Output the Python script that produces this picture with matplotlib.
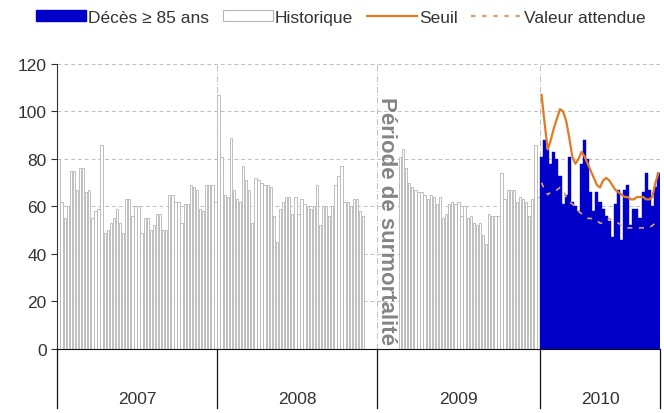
import numpy as np
import matplotlib.pyplot as plt
from matplotlib.patches import Patch
from matplotlib.lines import Line2D

plt.rcParams['font.family'] = ['Liberation Sans', 'DejaVu Sans']

# weeks shown per year
years = ['2007', '2008', '2009', '2010']
weeks_per_year = [52, 52, 53, 39]

# historical weekly deaths (None = excluded period)
hist_2007 = [80, 62, 55, 60, 75, 75, 67, 76, 76, 66, 67, 55, 58, 59, 86, 49, 50, 53,
             55, 59, 53, 49, 63, 63, 56, 60, 60, 49, 55, 55, 50, 52, 57, 57, 50, 50,
             65, 65, 62, 62, 53, 61, 61, 69, 68, 67, 59, 58, 69, 69, 69, 62]
hist_2008 = [107, 81, 65, 64, 89, 67, 63, 62, 77, 71, 67, 53, 72, 71, 70, 69, 69, 68,
             56, 45, 59, 62, 64, 64, 57, 64, 57, 63, 61, 60, 59, 60, 69, 52, 60, 60,
             56, 60, 69, 73, 77, 62, 62, 60, 63, 63, 58, 56, None, None, None, None]
hist_2009 = [None, None, None, None, None, None, None, 81, 84, 76, 70, 68, 67, 66,
             66, 65, 63, 65, 64, 61, 64, 55, 57, 61, 62, 61, 62, 56, 60, 55, 56, 53,
             52, 53, 48, 44, 57, 56, 56, 56, 74, 63, 67, 67, 67, 62, 64, 63, 62, 56,
             63, 86, 64]

# 2010 weekly deaths >= 85 years
deces_2010 = [81, 88, 84, 78, 83, 80, 73, 61, 65, 81, 62, 60, 58, 78, 88, 80, 66, 58,
              66, 62, 59, 56, 54, 47, 61, 67, 46, 67, 69, 52, 59, 59, 55, 66, 74, 67,
              60, 68, 74]
seuil_2010 = [107, 95, 84, 88, 93, 97, 101, 100, 96, 89, 81, 78, 80, 83, 81, 78, 75,
              72, 69, 68, 71, 72, 71, 69, 67, 66, 65, 64, 64, 63, 63, 64, 64, 64, 63,
              63, 64, 70, 74]
attendue_2010 = [70, 67, 65, 66, 66, 67, 68, 67, 64, 62, 61, 60, 58, 57, 56, 55, 55,
                 54, 54, 53, 53, 54, 55, 54, 53, 53, 52, 52, 51, 51, 51, 51, 51, 51,
                 51, 51, 52, 53, 54]

hist = hist_2007 + hist_2008 + hist_2009
n_hist = len(hist)
n_total = sum(weeks_per_year)
bounds = np.concatenate([[0], np.cumsum(weeks_per_year)])

x_hist = np.arange(n_hist)
h_vals = np.array([np.nan if v is None else v for v in hist], dtype=float)
x_2010 = np.arange(n_hist, n_total)

fig = plt.figure(figsize=(6.64, 4.14), dpi=100)
ax = fig.add_axes([0.0858, 0.1546, 0.9082, 0.6884])

ax.bar(x_hist, h_vals, width=0.75, color='white', edgecolor='#b4b4b4',
       linewidth=0.6, zorder=2)
ax.bar(x_2010, deces_2010, width=1.0, color='#0000c8', edgecolor='#0000c8',
       linewidth=0.3, zorder=2)
ax.plot(x_2010, seuil_2010, color='#e07b22', lw=1.6, zorder=3)
ax.plot(x_2010, attendue_2010, color='#d8a46a', lw=1.2, ls=(0, (3, 4)), zorder=3)

ax.set_xlim(-0.5, n_total - 0.5)
ax.set_ylim(0, 120)
ax.set_yticks(range(0, 121, 20))
ax.tick_params(axis='y', labelsize=12.5, colors='#333333', length=4, direction='out')
ax.tick_params(axis='x', length=0, labelbottom=False)

# gridlines
for yv in range(20, 121, 20):
    ax.axhline(yv, color='#c0c0c0', lw=0.7, ls=(0, (4, 3)), zorder=0)
for b in bounds[1:-1]:
    ax.axvline(b - 0.5, color='#c0c0c0', lw=0.7, ls=(0, (6, 2, 1, 2)), zorder=0)

for s in ['top', 'right']:
    ax.spines[s].set_visible(False)
ax.spines['left'].set_color('#333333')
ax.spines['bottom'].set_color('#111111')

# year separators and labels below the axis
for b in bounds:
    ax.plot([b - 0.5, b - 0.5], [0, -25], color='#111111', lw=0.9,
            clip_on=False, zorder=4)
for i, yr in enumerate(years):
    ax.text((bounds[i] + bounds[i + 1]) / 2 - 0.5, -21, yr, ha='center',
            va='center', fontsize=12.5, color='#333333')

ax.text(bounds[2] + 2.5, 54.5, 'Période de surmortalité', rotation=-90,
        ha='center', va='center', fontsize=16, fontweight='bold',
        color='#858585', zorder=5)

handles = [Patch(facecolor='#0000c8', edgecolor='#0000c8'),
           Patch(facecolor='white', edgecolor='#b4b4b4', linewidth=0.8),
           Line2D([], [], color='#e07b22', lw=1.6),
           Line2D([], [], color='#d8a46a', lw=1.6, ls=(0, (2, 3)))]
labels = ['Décès ≥ 85 ans', 'Historique', 'Seuil', 'Valeur attendue']
fig.legend(handles, labels, loc='center left', bbox_to_anchor=(0.030, 0.956),
           ncol=4, frameon=False, fontsize=12.5, handlelength=2.9,
           handleheight=0.55, handletextpad=0.1, columnspacing=0.8,
           labelcolor='#333333')

fig.savefig('out.png', dpi=100)
